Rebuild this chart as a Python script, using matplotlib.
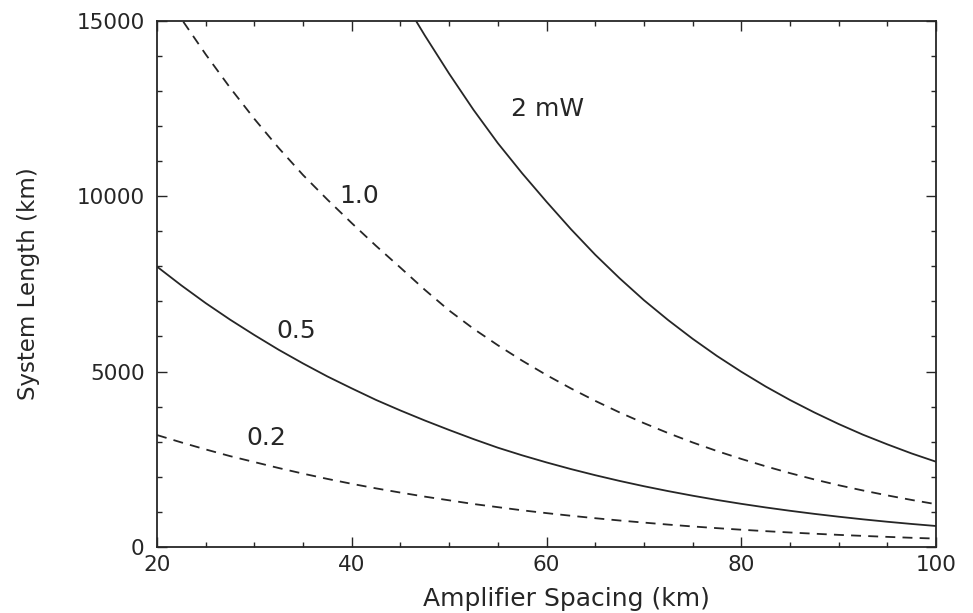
import matplotlib
matplotlib.use("Agg")
import matplotlib.pyplot as plt
from matplotlib.ticker import MultipleLocator

# Amplifier spacing (km) vs system length (km)
x_2mw = [46.65, 47.5, 50, 52.5, 55, 57.5, 60, 62.5, 65, 67.5, 70, 72.5, 75, 77.5,
         80, 82.5, 85, 87.5, 90, 92.5, 95, 97.5, 100]
y_2mw = [14970, 14580, 13490, 12460, 11510, 10650, 9840, 9060, 8330, 7660, 7035,
         6465, 5935, 5445, 4995, 4575, 4190, 3835, 3505, 3200, 2925, 2665, 2430]

x_1p0 = [22.7, 25, 27.5, 30, 32.5, 35, 37.5, 40, 42.5, 45, 47.5, 50, 52.5, 55, 57.5,
         60, 62.5, 65, 67.5, 70, 72.5, 75, 77.5, 80, 82.5, 85, 87.5, 90, 92.5, 95,
         97.5, 100]
y_1p0 = [14970, 14040, 13090, 12200, 11370, 10600, 9900, 9230, 8580, 7960, 7330,
         6740, 6220, 5750, 5310, 4900, 4520, 4165, 3835, 3530, 3245, 2980, 2735,
         2510, 2300, 2105, 1925, 1760, 1610, 1470, 1340, 1220]

x_0p5 = [20, 22.5, 25, 27.5, 30, 32.5, 35, 37.5, 40, 42.5, 45, 47.5, 50, 52.5, 55,
         57.5, 60, 62.5, 65, 67.5, 70, 72.5, 75, 77.5, 80, 82.5, 85, 87.5, 90, 92.5,
         95, 97.5, 100]
y_0p5 = [7990, 7455, 6950, 6480, 6040, 5620, 5230, 4860, 4520, 4190, 3890, 3605,
         3335, 3075, 2830, 2612, 2410, 2221, 2046, 1883, 1732, 1592, 1462, 1341,
         1230, 1127, 1032, 944, 863, 788, 719, 656, 598]

x_0p2 = x_0p5
y_0p2 = [3190, 2980, 2780, 2590, 2420, 2250, 2090, 1940, 1800, 1670, 1550, 1435,
         1330, 1225, 1135, 1045, 965, 890, 820, 755, 695, 638, 585, 537, 492, 451,
         413, 378, 345, 316, 288, 262, 239]

curve_labels = ["2 mW", "1.0", "0.5", "0.2"]
label_pos = [(60.1, 12480), (40.8, 10000), (34.3, 6160), (31.2, 3105)]

ink = '#262626'

fig = plt.figure(figsize=(9.73, 6.13), dpi=100)
ax = fig.add_axes([0.1614, 0.1077, 0.8006, 0.8585])

dash = (0, (5.5, 4))
ax.plot(x_2mw, y_2mw, color=ink, lw=1.3)
ax.plot(x_1p0, y_1p0, color=ink, lw=1.3, linestyle=dash)
ax.plot(x_0p5, y_0p5, color=ink, lw=1.3)
ax.plot(x_0p2, y_0p2, color=ink, lw=1.3, linestyle=dash)

for text, (tx, ty) in zip(curve_labels, label_pos):
    ax.text(tx, ty, text, fontsize=18, color=ink, ha='center', va='center')

ax.set_xlim(20, 100)
ax.set_ylim(0, 15000)
ax.xaxis.set_major_locator(MultipleLocator(20))
ax.xaxis.set_minor_locator(MultipleLocator(5))
ax.yaxis.set_major_locator(MultipleLocator(5000))
ax.yaxis.set_minor_locator(MultipleLocator(1000))

ax.tick_params(which='both', direction='in', top=True, right=True, color=ink,
               labelcolor=ink, labelsize=15.5, width=1.0)
ax.tick_params(which='major', length=7)
ax.tick_params(which='minor', length=3.5)
ax.tick_params(axis='x', pad=6)
ax.tick_params(axis='y', pad=9)
for sp in ax.spines.values():
    sp.set_color(ink)
    sp.set_linewidth(1.3)

ax.set_xlabel("Amplifier Spacing (km)", fontsize=18, color=ink)
ax.set_ylabel("System Length (km)", fontsize=16.5, color=ink)
ax.xaxis.set_label_coords(0.525, -0.076)
ax.yaxis.set_label_coords(-0.15, 0.5)

fig.savefig("out.png", dpi=100)
